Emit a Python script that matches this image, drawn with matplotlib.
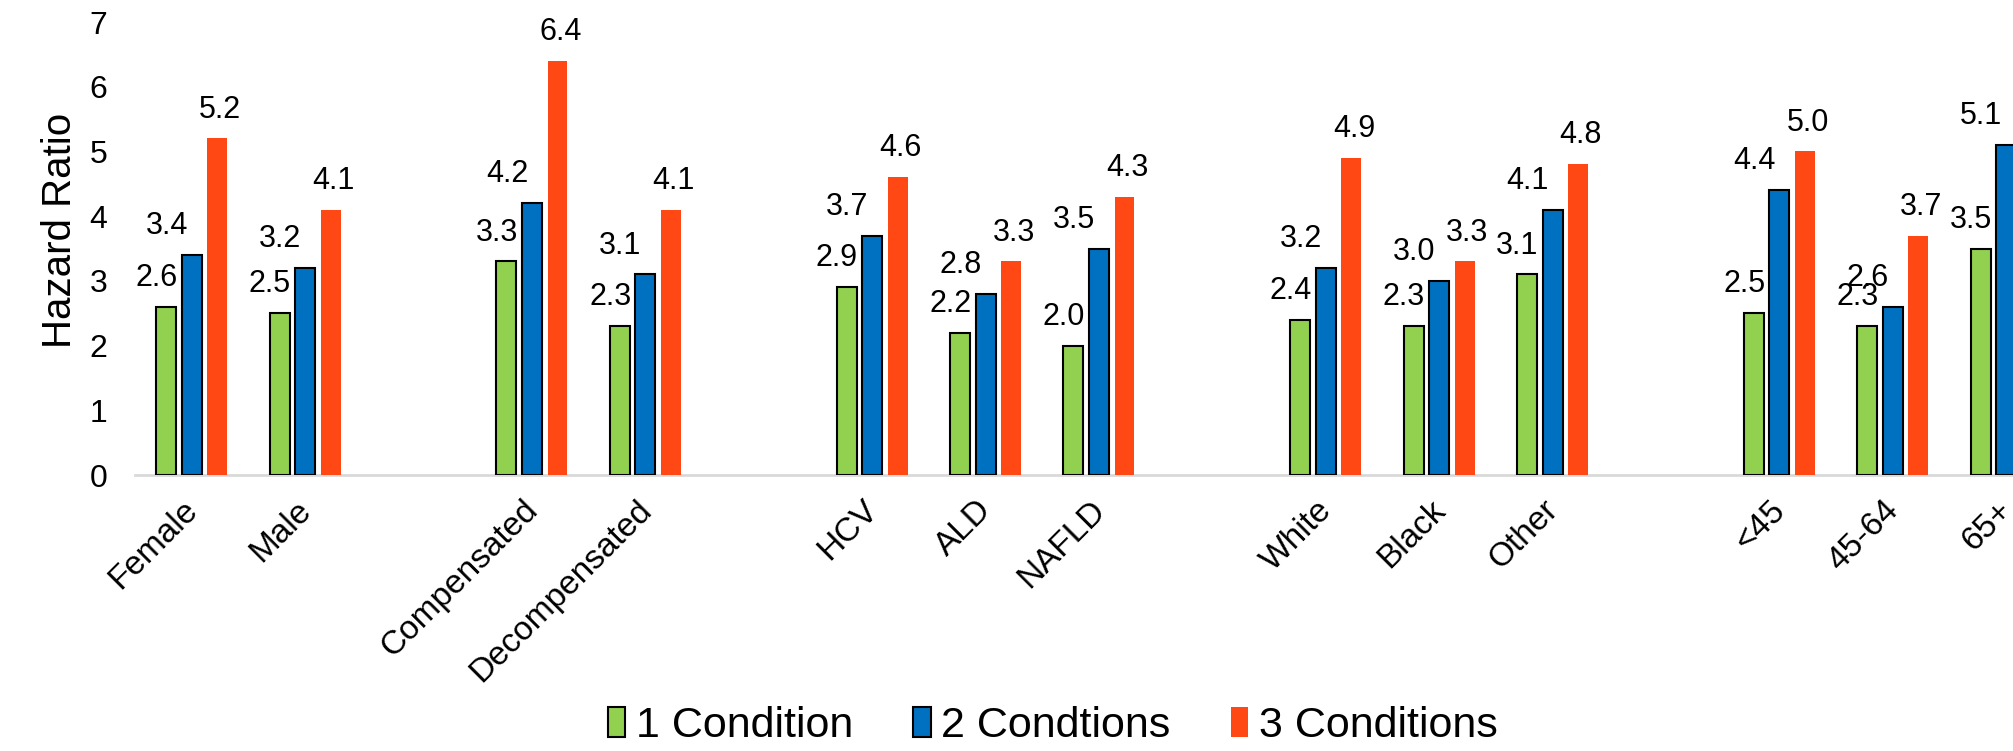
import numpy as np
import matplotlib
matplotlib.use("Agg")
import matplotlib.pyplot as plt
from matplotlib.transforms import ScaledTranslation

plt.rcParams['font.family'] = ['Liberation Sans', 'DejaVu Sans']

# categories and their slot on the x axis (one empty slot between groups)
categories = ["Female", "Male", "Compensated", "Decompensated", "HCV", "ALD", "NAFLD",
              "White", "Black", "Other", "<45", "45-64", "65+"]
slots = [0, 1, 3, 4, 6, 7, 8, 10, 11, 12, 14, 15, 16]

one_cond = [2.6, 2.5, 3.3, 2.3, 2.9, 2.2, 2.0, 2.4, 2.3, 3.1, 2.5, 2.3, 3.5]
two_cond = [3.4, 3.2, 4.2, 3.1, 3.7, 2.8, 3.5, 3.2, 3.0, 4.1, 4.4, 2.6, 5.1]
# last value is cut off in the source chart
three_cond = [5.2, 4.1, 6.4, 4.1, 4.6, 3.3, 4.3, 4.9, 3.3, 4.8, 5.0, 3.7, np.nan]

series_names = ["1 Condition", "2 Condtions", "3 Conditions"]
colors = ["#92D050", "#0070C0", "#FF4814"]

fig = plt.figure(figsize=(20.13, 7.51), dpi=100)
ax = fig.add_axes([0.0671, 0.3675, 0.9329, 0.6032])

x = np.array(slots, dtype=float)
w = 0.176
off = 0.225

# label shifts (points): green and blue labels sit left of their bars
label_dx = [-7, -18, 2]

all_series = [one_cond, two_cond, three_cond]
for i, vals in enumerate(all_series):
    vals = np.array(vals, dtype=float)
    xs = x + (i - 1) * off
    if i < 2:
        ax.bar(xs, vals, width=w, color=colors[i], edgecolor="black",
               linewidth=1.5, label=series_names[i], zorder=3)
    else:
        ax.bar(xs, vals, width=w, color=colors[i], linewidth=0,
               label=series_names[i], zorder=3)
    for xi, v in zip(xs, vals):
        if np.isnan(v):
            continue
        ax.annotate(f"{v:.1f}", (xi, v), xytext=(label_dx[i], 10), textcoords="offset points",
                    ha="center", va="bottom", fontsize=22, clip_on=False)

ax.set_xlim(-0.5, 16.06)
ax.set_ylim(0, 7)
ax.set_yticks(range(0, 8))
ax.tick_params(axis="y", length=0, pad=20, labelsize=23)
ax.set_xticks(x)
ax.set_xticklabels(categories, rotation=45, ha="right", va="top",
                   rotation_mode="anchor", fontsize=24)
ax.tick_params(axis="x", length=0, pad=14)
for lab in ax.get_xticklabels():
    lab.set_transform(lab.get_transform() + ScaledTranslation(-7 / 72, 0, fig.dpi_scale_trans))

for s in ["top", "right", "left"]:
    ax.spines[s].set_visible(False)
ax.spines["bottom"].set_color("#D9D9D9")
ax.spines["bottom"].set_linewidth(2)

ax.set_ylabel("Hazard Ratio", fontsize=29)
ax.yaxis.set_label_coords(-0.030, 0.54)

fig.legend(loc="lower center", bbox_to_anchor=(0.523, -0.045), ncol=3, frameon=False,
           fontsize=31, handlelength=0.4, handleheight=0.7, handletextpad=0.25,
           columnspacing=1.4)

fig.savefig("out.png", dpi=100)
